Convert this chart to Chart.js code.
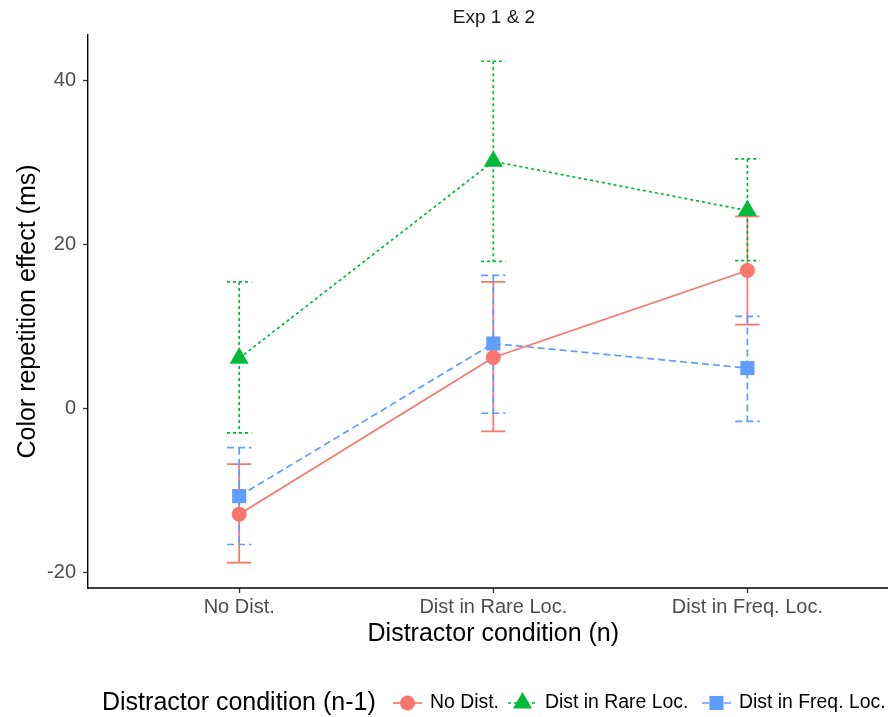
<!DOCTYPE html>
<html>
<head>
<meta charset="utf-8">
<script src="https://cdn.jsdelivr.net/npm/chart.js@4.4.1/dist/chart.umd.min.js"></script>
<style>
html,body{margin:0;padding:0;background:#fff;}
#wrap{position:relative;width:888px;height:717px;}
</style>
</head>
<body>
<div id="wrap"><canvas id="c" width="888" height="717"></canvas></div>
<script>
// ---- data ----
const categories = ["No Dist.", "Dist in Rare Loc.", "Dist in Freq. Loc."];
const seriesNames = ["No Dist.", "Dist in Rare Loc.", "Dist in Freq. Loc."];
const noDistMean = [-12.9, 6.2, 16.8];
const noDistLow  = [-18.8, -2.8, 10.2];
const noDistHigh = [-6.8, 15.4, 23.4];
const rareMean = [6.1, 30.1, 24.1];
const rareLow  = [-3.0, 17.9, 18.0];
const rareHigh = [15.4, 42.3, 30.4];
const freqMean = [-10.7, 7.9, 4.9];
const freqLow  = [-16.6, -0.6, -1.6];
const freqHigh = [-4.8, 16.2, 11.2];
const yTicks = [-20, 0, 20, 40];

const FONT = "'Liberation Sans', Arial, sans-serif";
const colors = ["#F8766D", "#00BA38", "#619CFF"];
const dashes = [[], [3, 3], [7, 4]];
const shapes = ["circle", "triangle", "rect"];
const radii = [7.5, 11, 10];

function mk(i, mean, low, high) {
  return {
    label: seriesNames[i],
    data: mean.map((v, k) => ({x: k + 1, y: v, lo: low[k], hi: high[k]})),
    borderColor: colors[i],
    backgroundColor: colors[i],
    borderWidth: 1.7,
    borderDash: dashes[i],
    pointStyle: shapes[i],
    pointRadius: radii[i],
    pointBorderWidth: 0,
    pointHoverRadius: radii[i],
    tension: 0,
    fill: false
  };
}

const errorBars = {
  id: 'errorBars',
  beforeDatasetsDraw(chart) {
    const ctx = chart.ctx, xs = chart.scales.x, ys = chart.scales.y;
    chart.data.datasets.forEach((ds, i) => {
      ctx.save();
      ctx.strokeStyle = ds.borderColor;
      ctx.lineWidth = 1.7;
      ctx.setLineDash(ds.borderDash);
      ds.data.forEach(p => {
        const x = xs.getPixelForValue(p.x);
        const xl = xs.getPixelForValue(p.x - 0.048), xr = xs.getPixelForValue(p.x + 0.048);
        const yl = ys.getPixelForValue(p.lo), yh = ys.getPixelForValue(p.hi);
        ctx.beginPath();
        ctx.moveTo(xl, yh); ctx.lineTo(xr, yh);
        ctx.moveTo(x, yh); ctx.lineTo(x, yl);
        ctx.moveTo(xl, yl); ctx.lineTo(xr, yl);
        ctx.stroke();
      });
      ctx.restore();
    });
  }
};

const texts = {
  id: 'texts',
  afterDraw(chart) {
    const ctx = chart.ctx, a = chart.chartArea;
    ctx.save();
    // x axis line running to the right edge
    ctx.strokeStyle = '#000';
    ctx.lineWidth = 1.4;
    ctx.beginPath(); ctx.moveTo(a.left - 0.7, a.bottom); ctx.lineTo(888, a.bottom); ctx.stroke();
    ctx.fillStyle = '#1a1a1a';
    ctx.textBaseline = 'middle';
    // title
    ctx.font = "19px " + FONT;
    ctx.textAlign = 'center';
    ctx.fillText("Exp 1 & 2", 494, 18);
    // x title
    ctx.fillStyle = '#000';
    ctx.font = "25px " + FONT;
    ctx.fillText("Distractor condition (n)", chart.scales.x.getPixelForValue(2), 634);
    // y title
    ctx.save();
    ctx.translate(28, (a.top + a.bottom) / 2);
    ctx.rotate(-Math.PI / 2);
    ctx.fillText("Color repetition effect (ms)", 0, 0);
    ctx.restore();
    // legend
    const ly = 703;
    ctx.textAlign = 'left';
    ctx.font = "25px " + FONT;
    ctx.fillText("Distractor condition (n-1)", 102, ly);
    const keyX = [393, 508, 702];
    chart.data.datasets.forEach((ds, i) => {
      const kx = keyX[i];
      ctx.save();
      ctx.strokeStyle = ds.borderColor;
      ctx.lineWidth = 1.7;
      ctx.setLineDash(ds.borderDash);
      ctx.beginPath(); ctx.moveTo(kx, ly); ctx.lineTo(kx + 29, ly); ctx.stroke();
      ctx.restore();
      ctx.save();
      ctx.fillStyle = ds.borderColor;
      ctx.strokeStyle = ds.borderColor;
      Chart.helpers.drawPoint(ctx, {pointStyle: ds.pointStyle, radius: ds.pointRadius, borderWidth: 0}, kx + 14.5, ly);
      ctx.restore();
      ctx.fillStyle = '#000';
      ctx.font = "19.4px " + FONT;
      ctx.fillText(ds.label, kx + 37, ly);
    });
    ctx.restore();
  }
};

new Chart(document.getElementById('c'), {
  type: 'line',
  data: {
    datasets: [
      mk(0, noDistMean, noDistLow, noDistHigh),
      mk(1, rareMean, rareLow, rareHigh),
      mk(2, freqMean, freqLow, freqHigh)
    ]
  },
  options: {
    responsive: false,
    animation: false,
    events: [],
    layout: {padding: {top: 35, right: 0, left: 0, bottom: 0}},
    plugins: {legend: {display: false}, tooltip: {enabled: false}, title: {display: false}},
    scales: {
      x: {
        type: 'linear',
        min: 0.405, max: 3.51,
        afterBuildTicks(s) { s.ticks = categories.map((c, i) => ({value: i + 1})); },
        afterFit(s) { s.height = 717 - 588; },
        ticks: {
          callback: (v) => categories[v - 1],
          font: {family: FONT, size: 20},
          color: '#4D4D4D',
          padding: 2,
          maxRotation: 0,
          autoSkip: false
        },
        grid: {drawOnChartArea: false, drawTicks: true, tickLength: 5, color: '#333', tickWidth: 1.3},
        border: {display: false}
      },
      y: {
        min: -21.9, max: 45.5,
        afterBuildTicks(s) { s.ticks = yTicks.map(v => ({value: v})); },
        afterFit(s) { s.width = 88; },
        ticks: {
          font: {family: FONT, size: 20},
          color: '#4D4D4D',
          padding: 7
        },
        grid: {drawOnChartArea: false, drawTicks: true, tickLength: 5, color: '#333', tickWidth: 1.3},
        border: {display: true, color: '#000', width: 1.4}
      }
    }
  },
  plugins: [errorBars, texts]
});
</script>
</body>
</html>
